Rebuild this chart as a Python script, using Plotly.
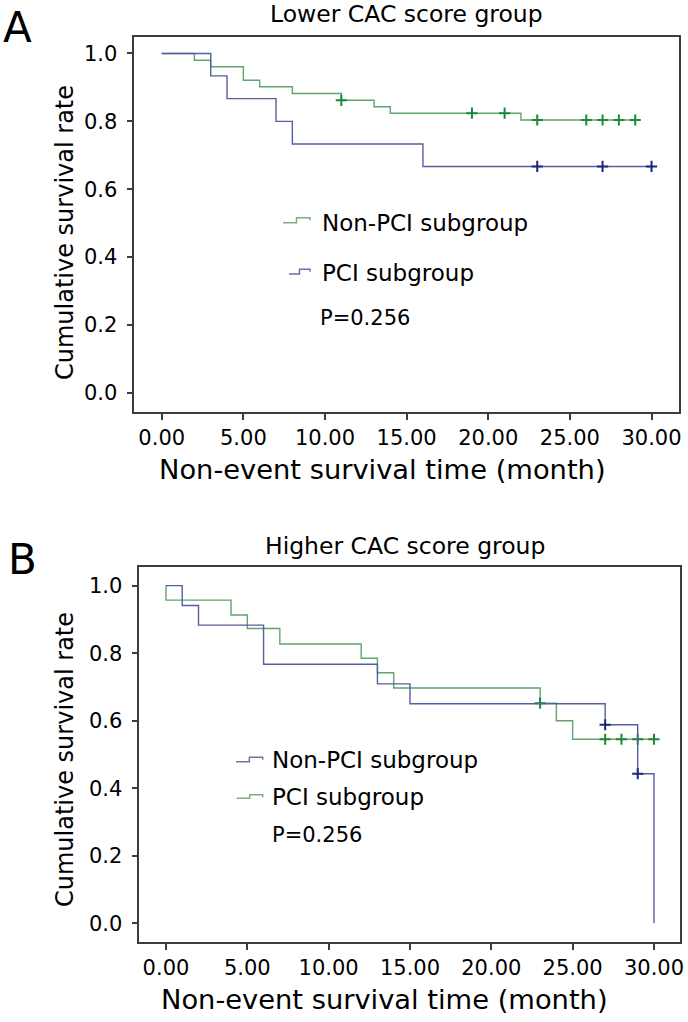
import plotly.graph_objects as go

# ---------------- data ----------------
# Panel A: Lower CAC score group
a_nonpci_time = [0, 2, 3, 5, 6, 8, 11, 13, 14, 22, 29]
a_nonpci_surv = [1.0, 0.980, 0.961, 0.921, 0.902, 0.882, 0.862, 0.843, 0.824, 0.804, 0.804]
a_nonpci_censor = [11, 19, 21, 23, 26, 27, 28, 29]

a_pci_time = [0, 3, 4, 7, 8, 16, 30]
a_pci_surv = [1.0, 0.934, 0.867, 0.800, 0.733, 0.667, 0.667]
a_pci_censor = [23, 27, 30]

# Panel B: Higher CAC score group
b_nonpci_time = [0, 1, 2, 6, 13, 15, 27, 29, 30]
b_nonpci_surv = [1.0, 0.941, 0.883, 0.767, 0.709, 0.650, 0.588, 0.443, 0.0]
b_nonpci_censor = [27, 29]

b_pci_time = [0, 0, 4, 5, 7, 12, 13, 14, 23, 24, 25, 30]
b_pci_surv = [1.0, 0.957, 0.913, 0.873, 0.827, 0.785, 0.742, 0.697, 0.652, 0.600, 0.545, 0.545]
b_pci_censor = [23, 27, 28, 29, 30]

x_ticks = [0, 5, 10, 15, 20, 25, 30]
y_ticks = [0.0, 0.2, 0.4, 0.6, 0.8, 1.0]

# ---------------- styling ----------------
W, H = 688, 1022
FONT = "DejaVu Sans"
GREEN_LINE = "rgb(95,165,110)"
GREEN_MARK = "rgb(30,135,55)"
BLUE_LINE = "rgb(85,95,160)"
BLUE_MARK = "rgb(25,40,120)"
AXIS_COL = "rgb(60,60,60)"


def px(x):
    return x / W


def py(y):
    return 1 - y / H


def step_value(times, surv, t):
    v = surv[0]
    for ti, si in zip(times, surv):
        if ti <= t:
            v = si
    return v


fig = go.Figure()


def add_km(times, surv, censor, line_col, mark_col, xa, ya):
    fig.add_trace(go.Scatter(
        x=times, y=surv, mode="lines", line=dict(color=line_col, width=1.4, shape="hv"),
        xaxis=xa, yaxis=ya, showlegend=False, hoverinfo="skip", cliponaxis=False))
    fig.add_trace(go.Scatter(
        x=censor, y=[step_value(times, surv, t) for t in censor], mode="markers",
        marker=dict(symbol="cross-thin", size=8, line=dict(color=mark_col, width=2)),
        xaxis=xa, yaxis=ya, showlegend=False, hoverinfo="skip", cliponaxis=False))


add_km(a_nonpci_time, a_nonpci_surv, a_nonpci_censor, GREEN_LINE, GREEN_MARK, "x", "y")
add_km(a_pci_time, a_pci_surv, a_pci_censor, BLUE_LINE, BLUE_MARK, "x", "y")
add_km(b_pci_time, b_pci_surv, b_pci_censor, GREEN_LINE, GREEN_MARK, "x2", "y2")
add_km(b_nonpci_time, b_nonpci_surv, b_nonpci_censor, BLUE_LINE, BLUE_MARK, "x2", "y2")

axis_common = dict(
    showline=True, linecolor=AXIS_COL, linewidth=1.6, mirror=True,
    ticks="outside", ticklen=6, tickcolor=AXIS_COL, tickwidth=1.6,
    showgrid=False, zeroline=False, automargin=False,
    tickfont=dict(family=FONT, size=21, color="black"),
)

fig.update_layout(
    template="none",
    width=W, height=H, margin=dict(l=0, r=0, t=0, b=0, pad=0),
    paper_bgcolor="white", plot_bgcolor="white", showlegend=False,
    xaxis=dict(domain=[px(134.3), px(679.3)], range=[-1.68, 31.7], anchor="y",
               tickvals=x_ticks, tickformat=".2f", **axis_common),
    yaxis=dict(domain=[py(411.7), py(36.7)], range=[-0.056, 1.0495], anchor="x",
               tickvals=y_ticks, tickformat=".1f", ticklabelstandoff=5, **axis_common),
    xaxis2=dict(domain=[px(139.3), px(680)], range=[-1.64, 31.6], anchor="y2",
                tickvals=x_ticks, tickformat=".2f", **axis_common),
    yaxis2=dict(domain=[py(941.7), py(566.7)], range=[-0.0545, 1.056], anchor="x2",
                tickvals=y_ticks, tickformat=".1f", ticklabelstandoff=5, **axis_common),
)


def ann(text, x, y, size, xanchor="center", angle=0):
    fig.add_annotation(text=text, x=px(x), y=py(y), xref="paper", yref="paper",
                       xanchor=xanchor, yanchor="middle", showarrow=False, textangle=angle,
                       font=dict(family=FONT, size=size, color="black"))


# panel letters and titles
ann("A", 17, 27, 42)
ann("B", 22, 559, 42)
ann("Lower CAC score group", 406, 14, 23.5)
ann("Higher CAC score group", 405, 546, 23.5)
ann("Cumulative survival rate", 65, 233, 24, angle=-90)
ann("Cumulative survival rate", 65, 760, 24, angle=-90)
ann("Non-event survival time (month)", 382, 469, 27.3)
ann("Non-event survival time (month)", 384, 999, 27.3)

# legend texts
ann("Non-PCI subgroup", 320, 223, 23, "left")
ann("PCI subgroup", 320, 273, 23, "left")
ann("P=0.256", 318, 318, 21, "left")
ann("Non-PCI subgroup", 270, 760, 23, "left")
ann("PCI subgroup", 270, 797, 23, "left")
ann("P=0.256", 270, 835, 21, "left")


def glyph(x0, x1, ylow, yhigh, color):
    xm = x0 + (x1 - x0) * 0.5
    path = (f"M {px(x0)},{py(ylow)} L {px(xm)},{py(ylow)} L {px(xm)},{py(yhigh)} "
            f"L {px(x1)},{py(yhigh)} L {px(x1)},{py(yhigh + 2.5)}")
    fig.add_shape(type="path", path=path, xref="paper", yref="paper",
                  line=dict(color=color, width=1.5))


glyph(283, 310, 222.7, 217.7, "rgb(120,175,130)")
glyph(289, 310, 274, 269.3, "rgb(110,115,165)")
glyph(236, 262.7, 761.7, 757.3, "rgb(110,115,165)")
glyph(236.7, 262.7, 798.3, 794.7, "rgb(120,175,130)")

fig.write_html(
    "out.html",
    config={"displayModeBar": False},
    post_script="document.body.style.margin='0px';document.body.style.overflow='hidden';",
)
